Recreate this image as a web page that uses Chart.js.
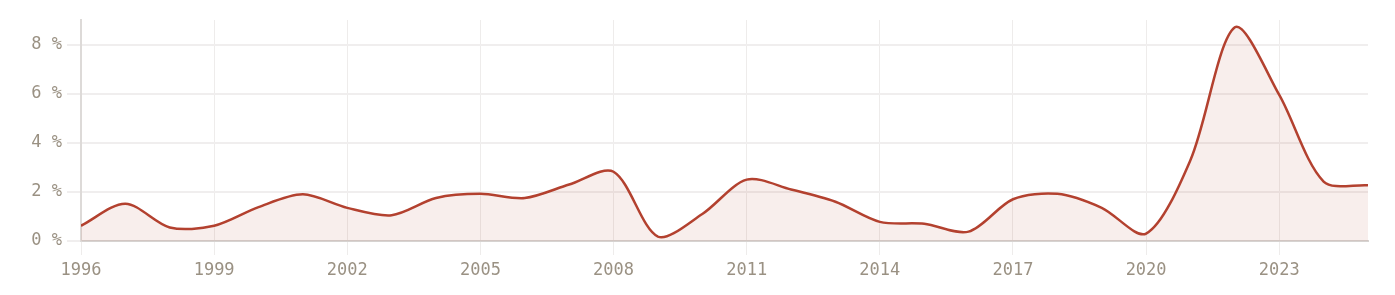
<!DOCTYPE html>
<html>
<head>
<meta charset="utf-8">
<script src="https://cdn.jsdelivr.net/npm/chart.js@4/dist/chart.umd.min.js"></script>
<style>
  html, body { margin: 0; padding: 0; background: #fff; }
  #wrap { width: 1395px; height: 295px; }
</style>
</head>
<body>
<div id="wrap"><canvas id="myChart" width="1395" height="295"></canvas></div>
<script>
// yearly values
const years = [1996, 1997, 1998, 1999, 2000, 2001, 2002, 2003, 2004, 2005,
  2006, 2007, 2008, 2009, 2010, 2011, 2012, 2013, 2014, 2015,
  2016, 2017, 2018, 2019, 2020, 2021, 2022, 2023, 2024, 2025];
const rates = [0.62, 1.52, 0.55, 0.62, 1.38, 1.9, 1.35, 1.05, 1.75, 1.92,
  1.75, 2.3, 2.82, 0.18, 1.1, 2.5, 2.1, 1.6, 0.78, 0.7,
  0.38, 1.7, 1.92, 1.35, 0.3, 3.3, 8.7, 5.95, 2.42, 2.27];
const yTicks = [0, 2, 4, 6, 8];
const xTicks = [1996, 1999, 2002, 2005, 2008, 2011, 2014, 2017, 2020, 2023];

const labelFont = { family: "'DejaVu Sans Mono', monospace", size: 17 };
const labelColor = '#9a9183';

const points = years.map((y, i) => ({ x: y, y: rates[i] }));

var ctx = document.getElementById('myChart').getContext('2d');
var chart = new Chart(ctx, {
  type: 'line',
  data: {
    datasets: [{
      data: points,
      borderColor: '#b3412f',
      backgroundColor: 'rgba(181, 65, 47, 0.09)',
      borderWidth: 2.5,
      fill: 'origin',
      tension: 0.3,
      pointRadius: 0
    }]
  },
  options: {
    responsive: false,
    animation: false,
    layout: { padding: { top: 20, right: 27, left: 0, bottom: 0 } },
    plugins: { legend: { display: false }, tooltip: { enabled: false } },
    scales: {
      x: {
        type: 'linear',
        min: 1996,
        max: 2025,
        afterBuildTicks: axis => { axis.ticks = xTicks.map(v => ({ value: v })); },
        afterFit: axis => { axis.height = 54; },
        ticks: {
          color: labelColor,
          font: labelFont,
          padding: 5,
          maxRotation: 0,
          callback: v => String(v)
        },
        grid: { color: '#eeeceb', lineWidth: 1, tickLength: 14 },
        border: { color: '#d6d3d1', width: 2 }
      },
      y: {
        min: 0,
        max: 9,
        afterBuildTicks: axis => { axis.ticks = yTicks.map(v => ({ value: v })); },
        afterFit: axis => { axis.width = 81; },
        ticks: {
          color: labelColor,
          font: labelFont,
          padding: 5,
          callback: v => v + ' %'
        },
        grid: { color: '#f0eeee', lineWidth: 2, tickLength: 14 },
        border: { color: '#dddad8', width: 2 }
      }
    }
  }
});
</script>
</body>
</html>
